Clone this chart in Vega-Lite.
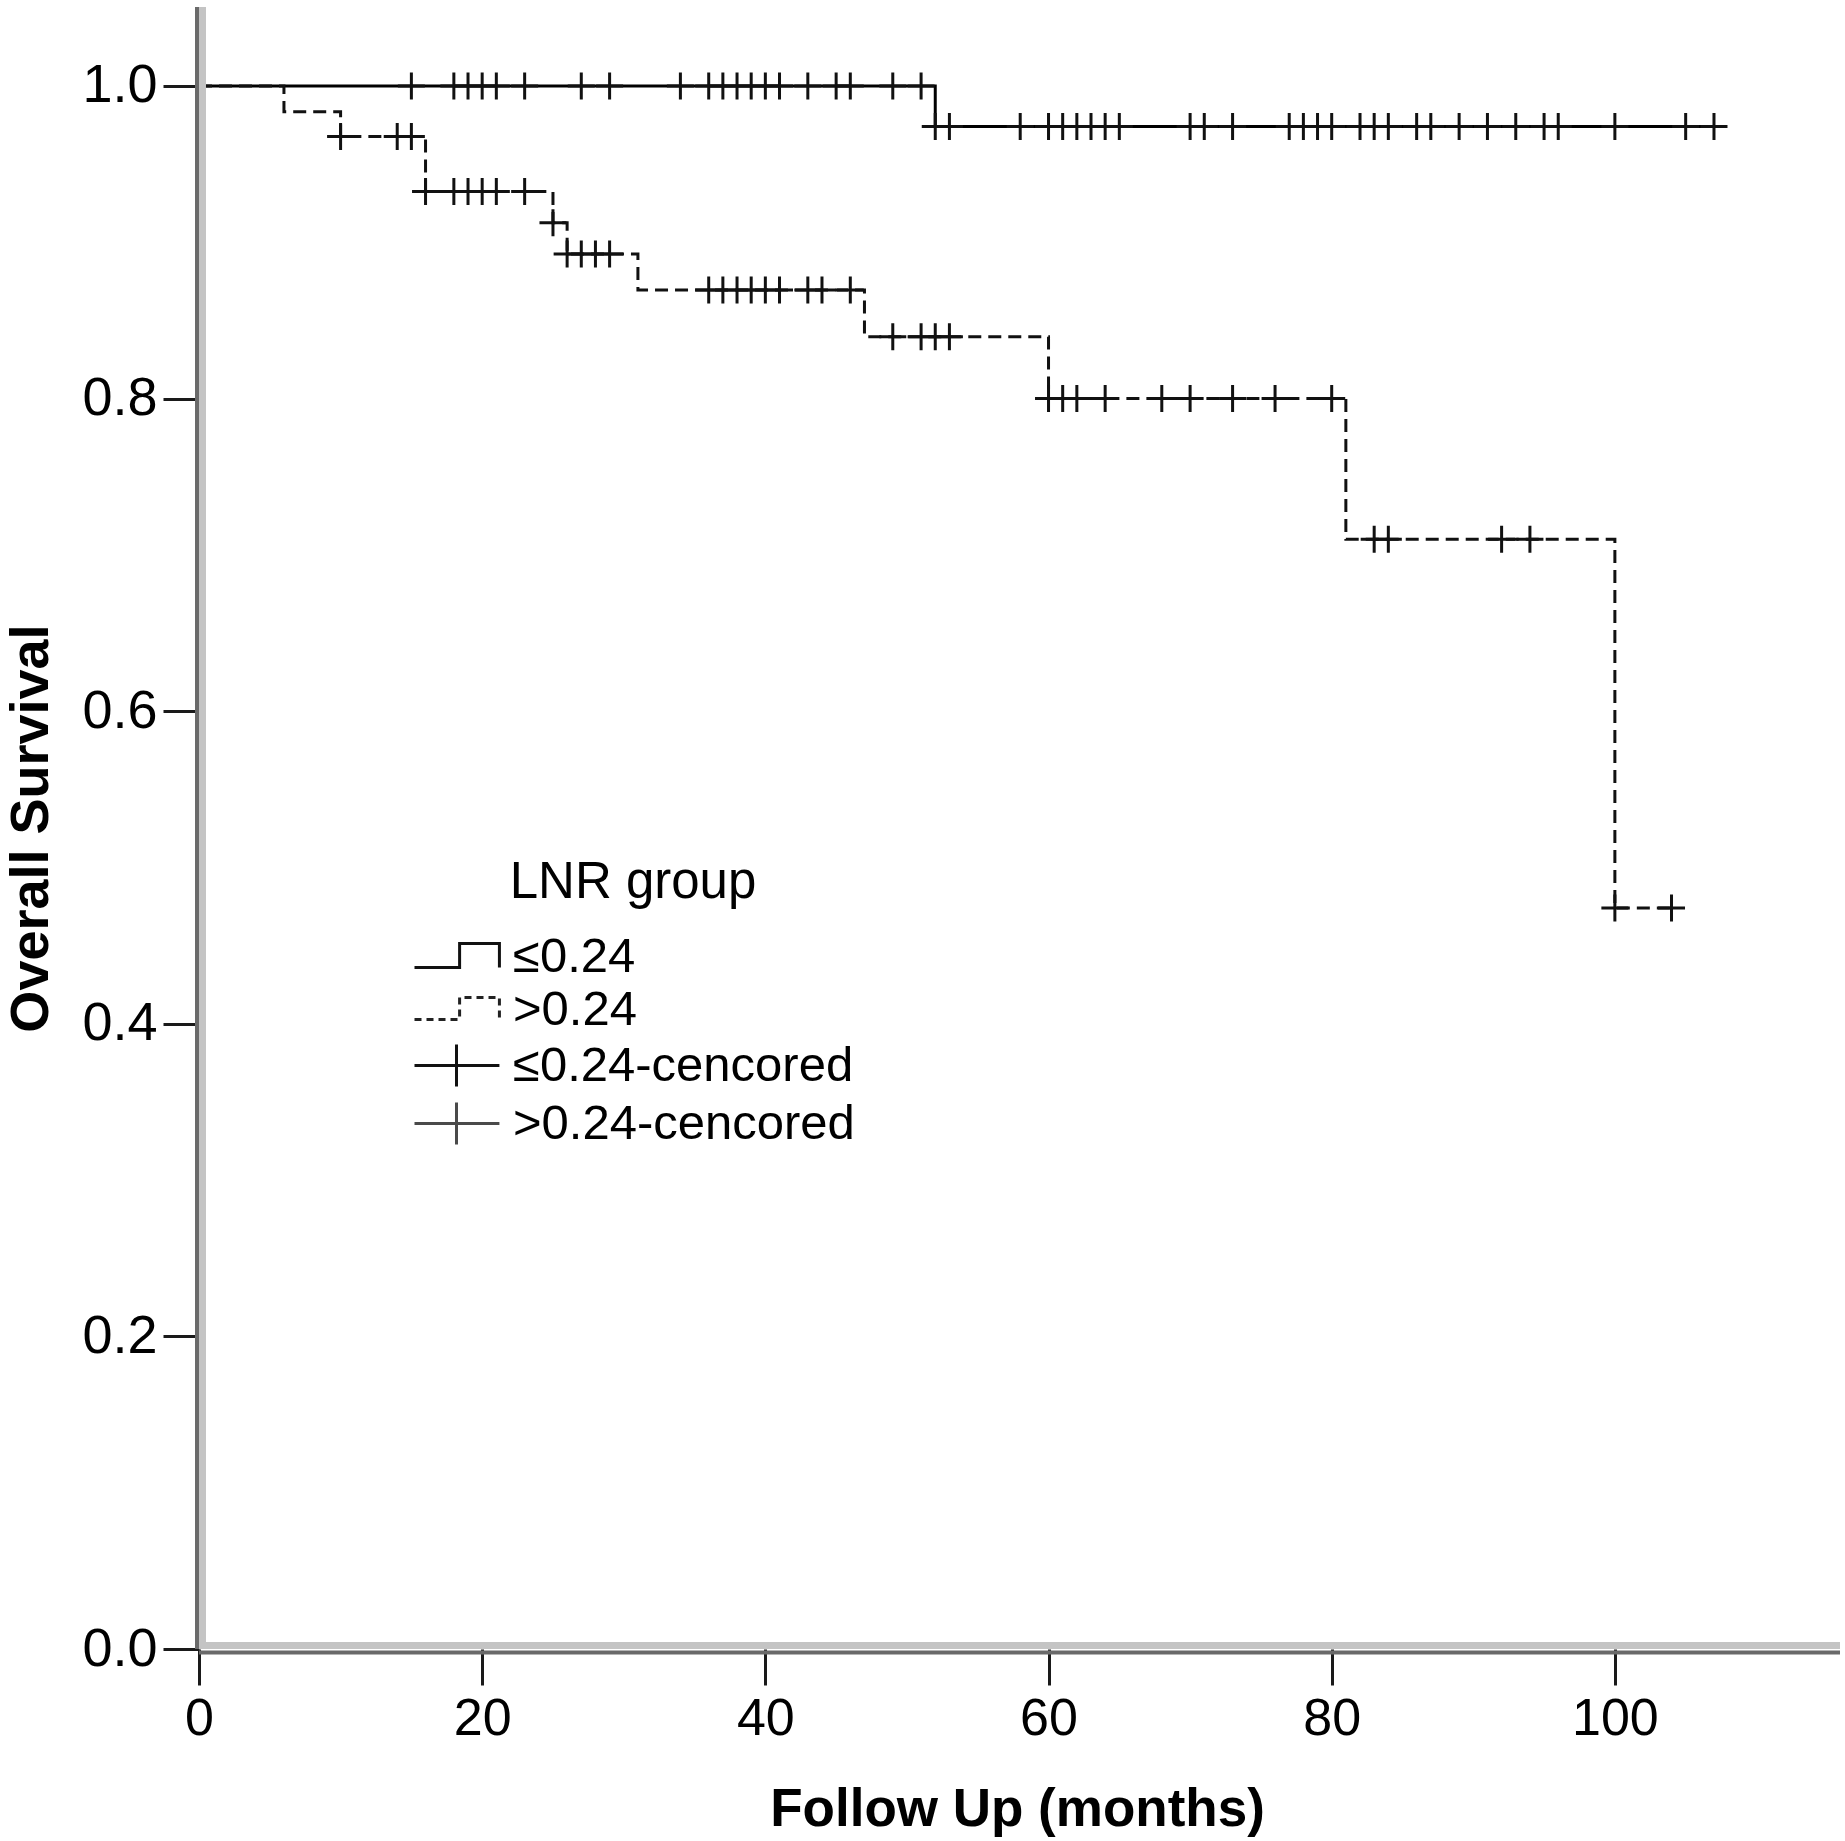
{
  "$schema": "https://vega.github.io/schema/vega-lite/v6.json",
  "width": 1641,
  "height": 1642,
  "autosize": "none",
  "padding": {"left": 199, "top": 7, "right": 5, "bottom": 192},
  "background": "white",
  "config": {"view": {"stroke": null}},
  "datasets": {
    "curves": [
      {"grp": "≤0.24", "t": 0, "s": 1.0},
      {"grp": "≤0.24", "t": 52, "s": 0.974},
      {"grp": "≤0.24", "t": 107.5, "s": 0.974},
      {"grp": ">0.24", "t": 0, "s": 1.0},
      {"grp": ">0.24", "t": 6, "s": 0.9835},
      {"grp": ">0.24", "t": 10, "s": 0.9676},
      {"grp": ">0.24", "t": 16, "s": 0.9324},
      {"grp": ">0.24", "t": 25, "s": 0.9125},
      {"grp": ">0.24", "t": 26, "s": 0.8925},
      {"grp": ">0.24", "t": 31, "s": 0.8695},
      {"grp": ">0.24", "t": 47, "s": 0.8396},
      {"grp": ">0.24", "t": 60, "s": 0.80},
      {"grp": ">0.24", "t": 81, "s": 0.71},
      {"grp": ">0.24", "t": 100, "s": 0.474},
      {"grp": ">0.24", "t": 104, "s": 0.474}
    ],
    "censored": [
      {"grp": "≤0.24-cencored", "t": 15, "s": 1.0},
      {"grp": "≤0.24-cencored", "t": 18, "s": 1.0},
      {"grp": "≤0.24-cencored", "t": 19, "s": 1.0},
      {"grp": "≤0.24-cencored", "t": 20, "s": 1.0},
      {"grp": "≤0.24-cencored", "t": 21, "s": 1.0},
      {"grp": "≤0.24-cencored", "t": 23, "s": 1.0},
      {"grp": "≤0.24-cencored", "t": 27, "s": 1.0},
      {"grp": "≤0.24-cencored", "t": 29, "s": 1.0},
      {"grp": "≤0.24-cencored", "t": 34, "s": 1.0},
      {"grp": "≤0.24-cencored", "t": 36, "s": 1.0},
      {"grp": "≤0.24-cencored", "t": 37, "s": 1.0},
      {"grp": "≤0.24-cencored", "t": 38, "s": 1.0},
      {"grp": "≤0.24-cencored", "t": 39, "s": 1.0},
      {"grp": "≤0.24-cencored", "t": 40, "s": 1.0},
      {"grp": "≤0.24-cencored", "t": 41, "s": 1.0},
      {"grp": "≤0.24-cencored", "t": 43, "s": 1.0},
      {"grp": "≤0.24-cencored", "t": 45, "s": 1.0},
      {"grp": "≤0.24-cencored", "t": 46, "s": 1.0},
      {"grp": "≤0.24-cencored", "t": 49, "s": 1.0},
      {"grp": "≤0.24-cencored", "t": 51, "s": 1.0},
      {"grp": "≤0.24-cencored", "t": 52, "s": 0.974},
      {"grp": "≤0.24-cencored", "t": 53, "s": 0.974},
      {"grp": "≤0.24-cencored", "t": 58, "s": 0.974},
      {"grp": "≤0.24-cencored", "t": 60, "s": 0.974},
      {"grp": "≤0.24-cencored", "t": 61, "s": 0.974},
      {"grp": "≤0.24-cencored", "t": 62, "s": 0.974},
      {"grp": "≤0.24-cencored", "t": 63, "s": 0.974},
      {"grp": "≤0.24-cencored", "t": 64, "s": 0.974},
      {"grp": "≤0.24-cencored", "t": 65, "s": 0.974},
      {"grp": "≤0.24-cencored", "t": 70, "s": 0.974},
      {"grp": "≤0.24-cencored", "t": 71, "s": 0.974},
      {"grp": "≤0.24-cencored", "t": 73, "s": 0.974},
      {"grp": "≤0.24-cencored", "t": 77, "s": 0.974},
      {"grp": "≤0.24-cencored", "t": 78, "s": 0.974},
      {"grp": "≤0.24-cencored", "t": 79, "s": 0.974},
      {"grp": "≤0.24-cencored", "t": 80, "s": 0.974},
      {"grp": "≤0.24-cencored", "t": 82, "s": 0.974},
      {"grp": "≤0.24-cencored", "t": 83, "s": 0.974},
      {"grp": "≤0.24-cencored", "t": 84, "s": 0.974},
      {"grp": "≤0.24-cencored", "t": 86, "s": 0.974},
      {"grp": "≤0.24-cencored", "t": 87, "s": 0.974},
      {"grp": "≤0.24-cencored", "t": 89, "s": 0.974},
      {"grp": "≤0.24-cencored", "t": 91, "s": 0.974},
      {"grp": "≤0.24-cencored", "t": 93, "s": 0.974},
      {"grp": "≤0.24-cencored", "t": 95, "s": 0.974},
      {"grp": "≤0.24-cencored", "t": 96, "s": 0.974},
      {"grp": "≤0.24-cencored", "t": 100, "s": 0.974},
      {"grp": "≤0.24-cencored", "t": 105, "s": 0.974},
      {"grp": "≤0.24-cencored", "t": 107, "s": 0.974},
      {"grp": ">0.24-cencored", "t": 10, "s": 0.9676},
      {"grp": ">0.24-cencored", "t": 14, "s": 0.9676},
      {"grp": ">0.24-cencored", "t": 15, "s": 0.9676},
      {"grp": ">0.24-cencored", "t": 16, "s": 0.9324},
      {"grp": ">0.24-cencored", "t": 18, "s": 0.9324},
      {"grp": ">0.24-cencored", "t": 19, "s": 0.9324},
      {"grp": ">0.24-cencored", "t": 20, "s": 0.9324},
      {"grp": ">0.24-cencored", "t": 21, "s": 0.9324},
      {"grp": ">0.24-cencored", "t": 23, "s": 0.9324},
      {"grp": ">0.24-cencored", "t": 25, "s": 0.9125},
      {"grp": ">0.24-cencored", "t": 26, "s": 0.8925},
      {"grp": ">0.24-cencored", "t": 27, "s": 0.8925},
      {"grp": ">0.24-cencored", "t": 28, "s": 0.8925},
      {"grp": ">0.24-cencored", "t": 29, "s": 0.8925},
      {"grp": ">0.24-cencored", "t": 36, "s": 0.8695},
      {"grp": ">0.24-cencored", "t": 37, "s": 0.8695},
      {"grp": ">0.24-cencored", "t": 38, "s": 0.8695},
      {"grp": ">0.24-cencored", "t": 39, "s": 0.8695},
      {"grp": ">0.24-cencored", "t": 40, "s": 0.8695},
      {"grp": ">0.24-cencored", "t": 41, "s": 0.8695},
      {"grp": ">0.24-cencored", "t": 43, "s": 0.8695},
      {"grp": ">0.24-cencored", "t": 44, "s": 0.8695},
      {"grp": ">0.24-cencored", "t": 46, "s": 0.8695},
      {"grp": ">0.24-cencored", "t": 49, "s": 0.8396},
      {"grp": ">0.24-cencored", "t": 51, "s": 0.8396},
      {"grp": ">0.24-cencored", "t": 52, "s": 0.8396},
      {"grp": ">0.24-cencored", "t": 53, "s": 0.8396},
      {"grp": ">0.24-cencored", "t": 60, "s": 0.80},
      {"grp": ">0.24-cencored", "t": 61, "s": 0.80},
      {"grp": ">0.24-cencored", "t": 62, "s": 0.80},
      {"grp": ">0.24-cencored", "t": 64, "s": 0.80},
      {"grp": ">0.24-cencored", "t": 68, "s": 0.80},
      {"grp": ">0.24-cencored", "t": 70, "s": 0.80},
      {"grp": ">0.24-cencored", "t": 73, "s": 0.80},
      {"grp": ">0.24-cencored", "t": 76, "s": 0.80},
      {"grp": ">0.24-cencored", "t": 80, "s": 0.80},
      {"grp": ">0.24-cencored", "t": 83, "s": 0.71},
      {"grp": ">0.24-cencored", "t": 84, "s": 0.71},
      {"grp": ">0.24-cencored", "t": 92, "s": 0.71},
      {"grp": ">0.24-cencored", "t": 94, "s": 0.71},
      {"grp": ">0.24-cencored", "t": 100, "s": 0.474},
      {"grp": ">0.24-cencored", "t": 104, "s": 0.474}
    ]
  },
  "layer": [
    {
      "data": {"name": "curves"},
      "transform": [{"filter": "datum.grp === '≤0.24'"}],
      "mark": {"type": "line", "interpolate": "step-after", "color": "#000000", "strokeWidth": 3},
      "encoding": {
        "x": {
          "field": "t", "type": "quantitative",
          "scale": {"domain": [0, 115.9], "nice": false, "zero": false},
          "axis": {
            "values": [0, 20, 40, 60, 80, 100],
            "domain": false, "grid": false,
            "tickSize": 36, "tickWidth": 3, "tickColor": "#1a1a1a",
            "labelFont": "Liberation Sans", "labelFontSize": 52, "labelColor": "#000000",
            "labelPadding": 8, "labelFlush": false,
            "title": "Follow Up (months)",
            "titleFont": "Liberation Sans", "titleFontSize": 53, "titleFontWeight": "bold", "titleColor": "#000000",
            "titleX": 818, "titleY": 176, "titleBaseline": "alphabetic", "titleAlign": "center"
          }
        },
        "y": {
          "field": "s", "type": "quantitative",
          "scale": {"domain": [0, 1.0505], "nice": false, "zero": false},
          "axis": {
            "values": [0, 0.2, 0.4, 0.6, 0.8, 1.0], "format": ".1f",
            "domain": false, "grid": false,
            "tickSize": 36, "tickWidth": 3, "tickColor": "#1a1a1a",
            "labelFont": "Liberation Sans", "labelFontSize": 54, "labelColor": "#000000",
            "labelPadding": 6,
            "title": "Overall Survival",
            "titleFont": "Liberation Sans", "titleFontSize": 54, "titleFontWeight": "bold", "titleColor": "#000000",
            "titleAngle": 270, "titleX": -152, "titleY": 821, "titleBaseline": "alphabetic", "titleAlign": "center"
          }
        }
      }
    },
    {
      "data": {"name": "curves"},
      "transform": [{"filter": "datum.grp === '>0.24'"}],
      "mark": {"type": "line", "interpolate": "step-after", "color": "#111111", "strokeWidth": 3, "strokeDash": [13, 7]},
      "encoding": {
        "x": {"field": "t", "type": "quantitative"},
        "y": {"field": "s", "type": "quantitative"}
      }
    },
    {
      "data": {"name": "censored"},
      "mark": {"type": "point", "filled": false, "size": 729, "strokeWidth": 3, "color": "#111111", "opacity": 1, "shape": "M-1,0H1M0,-1V1"},
      "encoding": {
        "x": {"field": "t", "type": "quantitative"},
        "y": {"field": "s", "type": "quantitative"}
      }
    },
    {
      "data": {"name": "censored"},
      "mark": {"type": "point", "filled": false, "size": 1936, "strokeWidth": 3, "opacity": 0},
      "encoding": {
        "x": {"field": "t", "type": "quantitative"},
        "y": {"field": "s", "type": "quantitative"},
        "shape": {
          "field": "grp", "type": "nominal",
          "scale": {
            "domain": ["≤0.24", ">0.24", "≤0.24-cencored", ">0.24-cencored"],
            "range": ["M-1,0.5H1.05V-0.59H2.86V0.5", "M-1,0.45H1.05V-0.55H2.86V0.45", "M-1,0H2.86M0.91,-0.95V0.95", "M-1,0H2.86M0.91,-0.95V0.95"]
          },
          "legend": {
            "title": "LNR group",
            "orient": "none", "legendX": 213, "legendY": 851,
            "direction": "vertical",
            "padding": 0,
            "titleFont": "Liberation Sans", "titleFontSize": 51, "titleFontWeight": "normal", "titleColor": "#000000",
            "titleAnchor": "middle", "titlePadding": 23, "titleLimit": 1000,
            "labelFont": "Liberation Sans", "labelFontSize": 49, "labelColor": "#000000", "labelOffset": 52, "labelLimit": 1000,
            "symbolSize": 1936, "symbolStrokeWidth": 3, "symbolOpacity": 1, "symbolFillColor": "transparent", "rowPadding": 3
          }
        },
        "strokeDash": {
          "field": "grp", "type": "nominal",
          "scale": {
            "domain": ["≤0.24", ">0.24", "≤0.24-cencored", ">0.24-cencored"],
            "range": [[1, 0], [7, 5], [1, 0], [1, 0]]
          },
          "legend": {
            "title": "LNR group",
            "orient": "none", "legendX": 213, "legendY": 851,
            "direction": "vertical",
            "padding": 0,
            "titleFont": "Liberation Sans", "titleFontSize": 51, "titleFontWeight": "normal", "titleColor": "#000000",
            "titleAnchor": "middle", "titlePadding": 23, "titleLimit": 1000,
            "labelFont": "Liberation Sans", "labelFontSize": 49, "labelColor": "#000000", "labelOffset": 52, "labelLimit": 1000,
            "symbolSize": 1936, "symbolStrokeWidth": 3, "symbolOpacity": 1, "symbolFillColor": "transparent", "rowPadding": 3
          }
        },
        "color": {
          "field": "grp", "type": "nominal",
          "scale": {
            "domain": ["≤0.24", ">0.24", "≤0.24-cencored", ">0.24-cencored"],
            "range": ["#111111", "#222222", "#111111", "#4a4a4a"]
          },
          "legend": {
            "title": "LNR group",
            "orient": "none", "legendX": 213, "legendY": 851,
            "direction": "vertical",
            "padding": 0,
            "titleFont": "Liberation Sans", "titleFontSize": 51, "titleFontWeight": "normal", "titleColor": "#000000",
            "titleAnchor": "middle", "titlePadding": 23, "titleLimit": 1000,
            "labelFont": "Liberation Sans", "labelFontSize": 49, "labelColor": "#000000", "labelOffset": 52, "labelLimit": 1000,
            "symbolSize": 1936, "symbolStrokeWidth": 3, "symbolOpacity": 1, "symbolFillColor": "transparent", "rowPadding": 3
          }
        }
      }
    },
    {
      "data": {"values": [{}]},
      "mark": {"type": "rule", "color": "#c4c4c4", "strokeWidth": 7, "xOffset": 3.5},
      "encoding": {"x": {"datum": 0, "type": "quantitative"}}
    },
    {
      "data": {"values": [{}]},
      "mark": {"type": "rule", "color": "#6a6a6a", "strokeWidth": 4, "xOffset": -2},
      "encoding": {"x": {"datum": 0, "type": "quantitative"}}
    },
    {
      "data": {"values": [{}]},
      "mark": {"type": "rule", "color": "#c4c4c4", "strokeWidth": 7, "yOffset": -3.5},
      "encoding": {"y": {"datum": 0, "type": "quantitative"}}
    },
    {
      "data": {"values": [{}]},
      "mark": {"type": "rule", "color": "#6a6a6a", "strokeWidth": 4, "yOffset": 3.5},
      "encoding": {"y": {"datum": 0, "type": "quantitative"}}
    }
  ]
}
